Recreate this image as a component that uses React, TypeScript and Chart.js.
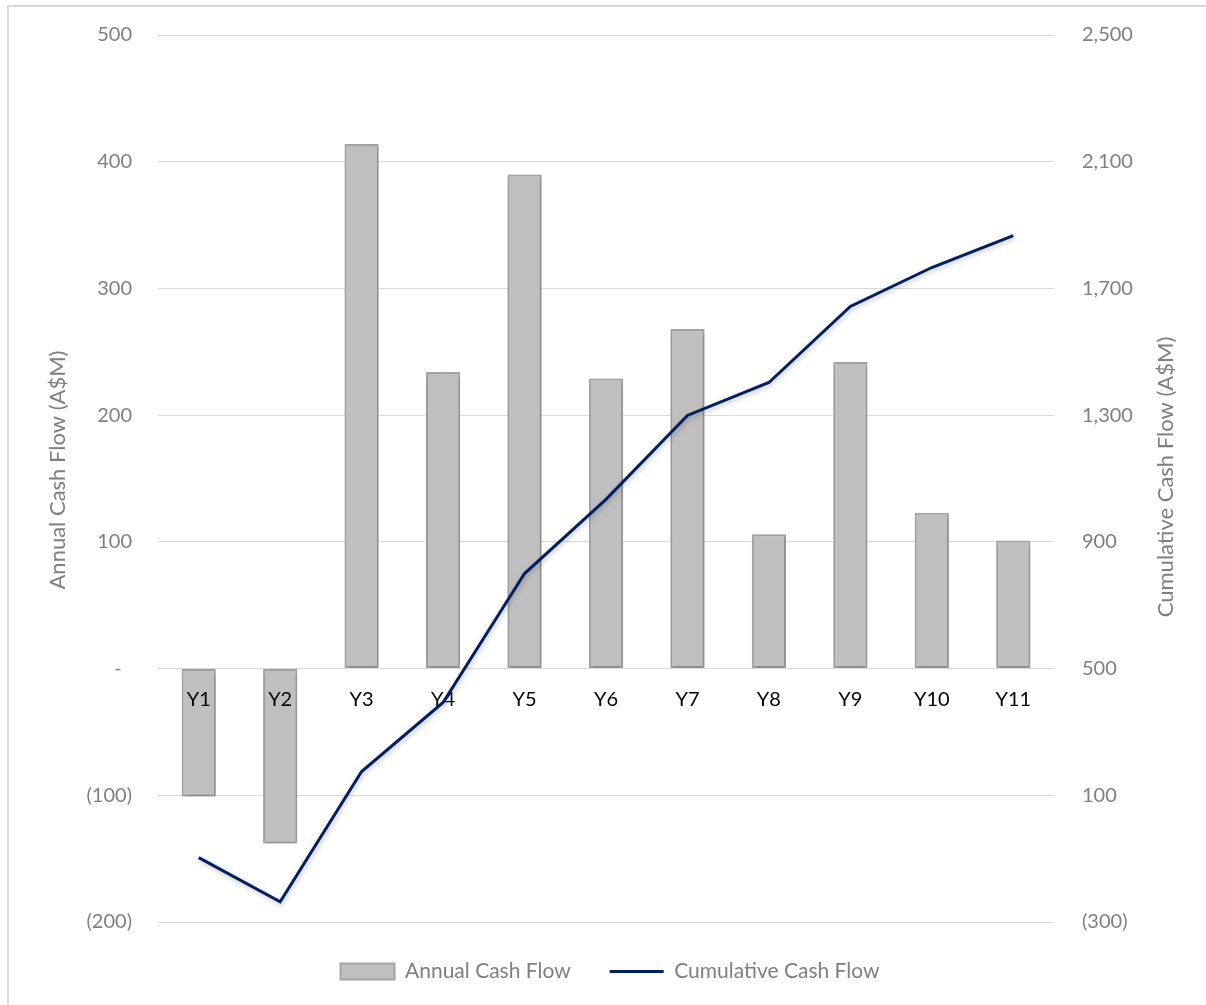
import React, { useEffect, useRef } from 'react';
import { Chart, registerables } from 'chart.js';

Chart.register(...registerables);

const categories = ['Y1', 'Y2', 'Y3', 'Y4', 'Y5', 'Y6', 'Y7', 'Y8', 'Y9', 'Y10', 'Y11'];
const annualCashFlow = [-101, -138, 414, 234, 390, 229, 268, 106, 242, 123, 101];
const cumulativeCashFlow = [-97, -236, 175, 393, 800, 1034, 1299, 1403, 1643, 1766, 1867];

const leftTickValues = [500, 400, 300, 200, 100, 0, -100, -200];
const leftTickLabels = ['500', '400', '300', '200', '100', '-  ', '(100)', '(200)'];
const rightTickValues = [2500, 2100, 1700, 1300, 900, 500, 100, -300];
const rightTickLabels = ['2,500', '2,100', '1,700', '1,300', '900', '500', '100', '(300)'];

const leftTitle = 'Annual Cash Flow (A$M)';
const rightTitle = 'Cumulative Cash Flow (A$M)';
const barLabel = 'Annual Cash Flow';
const lineLabel = 'Cumulative Cash Flow';

const FONT = 'Lato, "Open Sans", sans-serif';
const GREY_TEXT = '#7F7F7F';
const BAR_FILL = '#BFBFBF';
const BAR_EDGE = '#A5A5A5';
const LINE_COLOR = '#002060';

const titlesPlugin = {
  id: 'axisTitles',
  afterDraw(chart: any) {
    const ctx = chart.ctx;
    ctx.save();
    ctx.fillStyle = GREY_TEXT;
    ctx.font = `22px ${FONT}`;
    ctx.textAlign = 'center';
    ctx.textBaseline = 'middle';
    ctx.translate(58, 470);
    ctx.rotate(-Math.PI / 2);
    ctx.fillText(leftTitle, 0, 0);
    ctx.restore();
    ctx.save();
    ctx.fillStyle = GREY_TEXT;
    ctx.font = `22px ${FONT}`;
    ctx.textAlign = 'center';
    ctx.textBaseline = 'middle';
    ctx.translate(1166, 477);
    ctx.rotate(-Math.PI / 2);
    ctx.fillText(rightTitle, 0, 0);
    ctx.restore();
  },
};

const shadowPlugin = {
  id: 'softShadow',
  beforeDatasetDraw(chart: any) {
    const ctx = chart.ctx;
    ctx.save();
    ctx.shadowColor = 'rgba(0,0,0,0.25)';
    ctx.shadowBlur = 5;
    ctx.shadowOffsetX = 1;
    ctx.shadowOffsetY = 2;
  },
  afterDatasetDraw(chart: any) {
    chart.ctx.restore();
  },
};

// category labels drawn above the bars but below the line
const categoryLabelsPlugin = {
  id: 'categoryLabels',
  afterDatasetDraw(chart: any, args: any) {
    if (args.index !== 1) return;
    const ctx = chart.ctx;
    const xs = chart.scales.x;
    const zeroY = chart.scales.y.getPixelForValue(0);
    ctx.save();
    ctx.fillStyle = '#000000';
    ctx.font = `20px ${FONT}`;
    ctx.textAlign = 'center';
    ctx.textBaseline = 'middle';
    categories.forEach((c, i) => {
      ctx.fillText(c, xs.getPixelForTick(i), zeroY + 31);
    });
    ctx.restore();
  },
};

export default function App() {
  const canvasRef = useRef<HTMLCanvasElement | null>(null);

  useEffect(() => {
    if (!canvasRef.current) return;
    const chart = new Chart(canvasRef.current, {
      type: 'bar',
      data: {
        labels: categories,
        datasets: [
          {
            type: 'line',
            label: lineLabel,
            data: cumulativeCashFlow,
            yAxisID: 'y1',
            borderColor: LINE_COLOR,
            backgroundColor: LINE_COLOR,
            borderWidth: 3,
            pointRadius: 0,
            tension: 0,
            fill: false,
            order: 0,
          },
          {
            type: 'bar',
            label: barLabel,
            data: annualCashFlow,
            yAxisID: 'y',
            backgroundColor: BAR_FILL,
            borderColor: BAR_EDGE,
            borderWidth: 2,
            borderSkipped: false,
            barPercentage: 0.42,
            categoryPercentage: 1,
            order: 1,
          },
        ] as any,
      },
      options: {
        responsive: false,
        animation: false,
        devicePixelRatio: 1,
        layout: { padding: { top: 35, bottom: 13, left: 14, right: 0 } },
        plugins: {
          tooltip: { enabled: false },
          legend: {
            position: 'bottom',
            labels: {
              usePointStyle: true,
              pointStyleWidth: 54,
              boxHeight: 16,
              padding: 39,
              color: GREY_TEXT,
              font: { family: FONT, size: 21 },
              generateLabels: () => [
                {
                  text: barLabel,
                  fillStyle: BAR_FILL,
                  strokeStyle: BAR_EDGE,
                  lineWidth: 2,
                  pointStyle: 'rect',
                  hidden: false,
                  datasetIndex: 1,
                  fontColor: GREY_TEXT,
                } as any,
                {
                  text: lineLabel,
                  fillStyle: LINE_COLOR,
                  strokeStyle: LINE_COLOR,
                  lineWidth: 3,
                  pointStyle: 'line',
                  hidden: false,
                  datasetIndex: 0,
                  fontColor: GREY_TEXT,
                } as any,
              ],
            },
          },
        },
        scales: {
          x: {
            type: 'category',
            position: { y: 0 } as any,
            offset: true,
            grid: { display: false, drawTicks: false },
            border: { display: false },
            ticks: { display: false },
          },
          y: {
            position: 'left',
            min: -200,
            max: 500,
            ticks: {
              stepSize: 100,
              padding: 26,
              color: GREY_TEXT,
              font: { family: FONT, size: 20 },
              callback: (v: any) => {
                const i = leftTickValues.indexOf(Number(v));
                return i >= 0 ? leftTickLabels[i] : '';
              },
            },
            grid: { color: '#D9D9D9', lineWidth: 1, drawTicks: false },
            border: { display: false },
            afterFit: (s: any) => {
              s.width = 144;
              s.paddingTop = 0;
              s.paddingBottom = 0;
            },
          },
          y1: {
            position: 'right',
            min: -300,
            max: 2500,
            ticks: {
              stepSize: 400,
              padding: 28,
              color: GREY_TEXT,
              font: { family: FONT, size: 20 },
              callback: (v: any) => {
                const i = rightTickValues.indexOf(Number(v));
                return i >= 0 ? rightTickLabels[i] : '';
              },
            },
            grid: { display: false, drawOnChartArea: false, drawTicks: false },
            border: { display: false },
            afterFit: (s: any) => {
              s.width = 152;
              s.paddingTop = 0;
              s.paddingBottom = 0;
            },
          },
        },
      } as any,
      plugins: [shadowPlugin, categoryLabelsPlugin, titlesPlugin],
    });
    return () => chart.destroy();
  }, []);

  return (
    <div style={{ position: 'fixed', left: 0, top: 0, width: 1206, height: 1005, background: '#ffffff', overflow: 'hidden' }}>
      <div
        style={{
          position: 'absolute',
          left: 7,
          top: 5,
          width: 1206,
          height: 1005,
          border: '2px solid #D9D9D9',
          boxSizing: 'border-box',
        }}
      />
      <canvas ref={canvasRef} width={1206} height={1005} style={{ position: 'absolute', left: 0, top: 0 }} />
    </div>
  );
}
